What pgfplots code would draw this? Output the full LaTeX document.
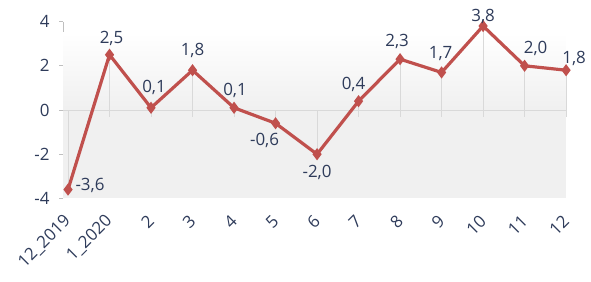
\documentclass[border=0pt]{standalone}
\usepackage{fontspec}
\setmainfont{Open Sans}
\usepackage{pgfplots}
\usepackage{pgfplotstable}
\pgfplotsset{compat=1.18}
\definecolor{txt}{HTML}{2E3B5A}
\definecolor{lred}{HTML}{C0504D}
\pgfplotstableread{
x y lab dx dy
0 -3.6 -3,6 22 4
1 2.5 2,5 2 16
2 0.1 0,1 3 20
3 1.8 1,8 0 20
4 0.1 0,1 1 17
5 -0.6 -0,6 -11 -17
6 -2.0 -2,0 0 -18
7 0.4 0,4 -5 17
8 2.3 2,3 -3 18
9 1.7 1,7 -1 19
10 3.8 3,8 0 10
11 2.0 2,0 11 17
12 1.8 1,8 8 12
}\datatable
\tikzset{xl/.style={rotate=45, anchor=east, text=txt, font=\fontsize{17}{20}\selectfont, inner sep=0pt}}
\begin{document}
\begin{tikzpicture}
\begin{axis}[
  x=41.5bp, y=22.1bp,
  xmin=-0.12, xmax=12, ymin=-4, ymax=4,
  axis x line=none,
  axis y line*=left,
  y axis line style={draw=black!25, line width=0.8pt},
  ytick={-4,-2,0,2,4},
  ytick style={draw=black!25, line width=0.8pt},
  tick align=outside, major tick length=4bp,
  /pgf/number format/assume math mode=true,
  yticklabel style={font=\fontsize{17}{20}\selectfont, text=txt, xshift=-6bp},
  clip=false,
  scale only axis,
]
\fill[top color=white, bottom color=black!6] (axis cs:-0.12,3.5) rectangle (axis cs:12,0);
\fill[black!6] (axis cs:-0.12,0) rectangle (axis cs:12,-4);
\draw[black!15, line width=0.8pt] (axis cs:-0.12,0) -- (axis cs:12,0);
\pgfplotsinvokeforeach{0,...,12}{\draw[black!15, line width=0.8pt] (axis cs:#1,0) -- (axis cs:#1,-0.3);}
\addplot[ycomb, black!15, line width=0.8pt, no marks] table[x=x,y=y] {\datatable};
\addplot[lred, line width=3.2pt, mark=diamond*, mark size=3.5pt,
  point meta=explicit symbolic,
  visualization depends on={\thisrow{dx} \as \dx},
  visualization depends on={\thisrow{dy} \as \dy},
  nodes near coords,
  every node near coord/.append style={anchor=center, xshift=\dx bp, yshift=\dy bp, text=txt, font=\fontsize{17}{20}\selectfont},
] table[x=x,y=y,meta=lab] {\datatable};
\node[xl] at (axis cs:0,-4.9) {12\_2019};
\node[xl] at (axis cs:1,-4.9) {1\_2020};
\node[xl] at (axis cs:2,-4.9) {2};
\node[xl] at (axis cs:3,-4.9) {3};
\node[xl] at (axis cs:4,-4.9) {4};
\node[xl] at (axis cs:5,-4.9) {5};
\node[xl] at (axis cs:6,-4.9) {6};
\node[xl] at (axis cs:7,-4.9) {7};
\node[xl] at (axis cs:8,-4.9) {8};
\node[xl] at (axis cs:9,-4.9) {9};
\node[xl] at (axis cs:10,-4.9) {10};
\node[xl] at (axis cs:11,-4.9) {11};
\node[xl] at (axis cs:12,-4.9) {12};
\coordinate (BL) at (axis cs:-1.639,-7.78);
\coordinate (TR) at (axis cs:12.60,4.977);
\end{axis}
\pgfresetboundingbox
\path[use as bounding box] (BL) rectangle (TR);
\end{tikzpicture}
\end{document}
